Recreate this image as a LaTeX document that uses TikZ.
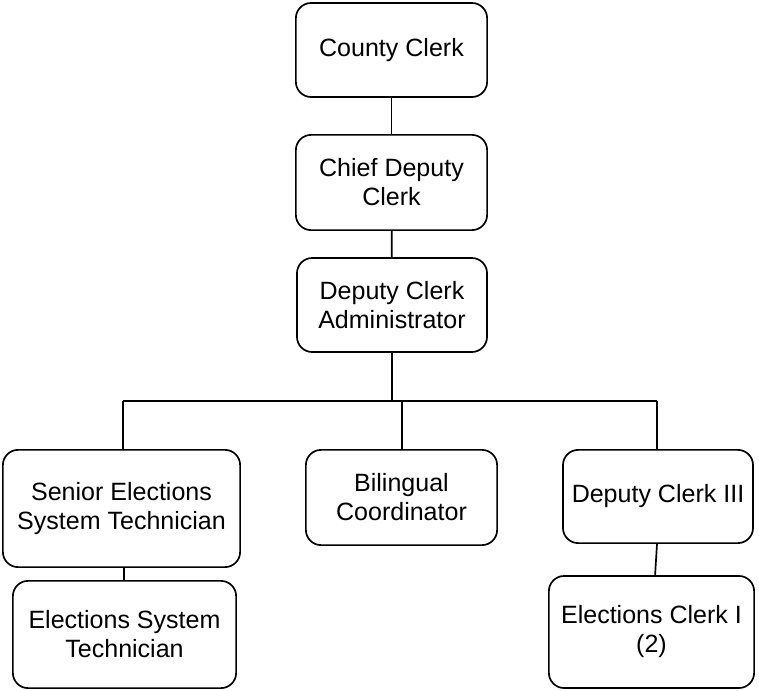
\documentclass[tikz,border=0pt]{standalone}
\usepackage{fontspec}
\setmainfont{Liberation Sans}

\tikzset{
  post/.style={draw, rounded corners=0.38cm, align=center, inner sep=0pt,
    font=\fontsize{17.8}{20.6}\selectfont},
}

\begin{document}
\begin{tikzpicture}[x=0.025cm, y=-0.025cm, line width=1.2pt]

\useasboundingbox (0,0) rectangle (759,691);

% Define nodes
\path (391.5,50)
node[post, minimum width=4.78cm, minimum height=2.35cm] (cc) {County Clerk}
(391.5,182.5)
node[post, minimum width=4.78cm, minimum height=2.38cm] (cdc) {Chief Deputy\\Clerk}
(392,305)
node[post, minimum width=4.75cm, minimum height=2.35cm] (dca) {Deputy Clerk\\Administrator}
(121.5,508.5)
node[post, minimum width=5.93cm, minimum height=2.93cm] (sest) {Senior Elections\\System Technician}
(401.5,497.5)
node[post, minimum width=4.78cm, minimum height=2.38cm] (bc) {Bilingual\\Coordinator}
(658,496.5)
node[post, minimum width=4.75cm, minimum height=2.33cm] (dc3) {Deputy Clerk III}
(124.5,634.5)
node[post, minimum width=5.58cm, minimum height=2.68cm] (est) {Elections System\\Technician}
(651.5,632)
node[post, minimum width=5.13cm, minimum height=2.8cm] (ec1) {Elections Clerk I\\(2)}
(392,401) coordinate (bus)
(123,401) coordinate (busL)
(402,401) coordinate (busM)
(657,401) coordinate (busR)
;

% Edges
\draw (cc) -- (cdc);
\draw (cdc) -- (dca);
\draw (dca) -- (bus);
\draw (busL) -- (busR);
\draw (busL) -- (busL |- sest.north);
\draw (busM) -- (busM |- bc.north);
\draw (busR) -- (busR |- dc3.north);
\draw ([xshift=0.06cm]sest.south) -- ([xshift=0.06cm]sest.south |- est.north);
\draw ([xshift=-0.025cm]dc3.south) -- ([xshift=0.09cm]ec1.north);

\end{tikzpicture}
\end{document}
